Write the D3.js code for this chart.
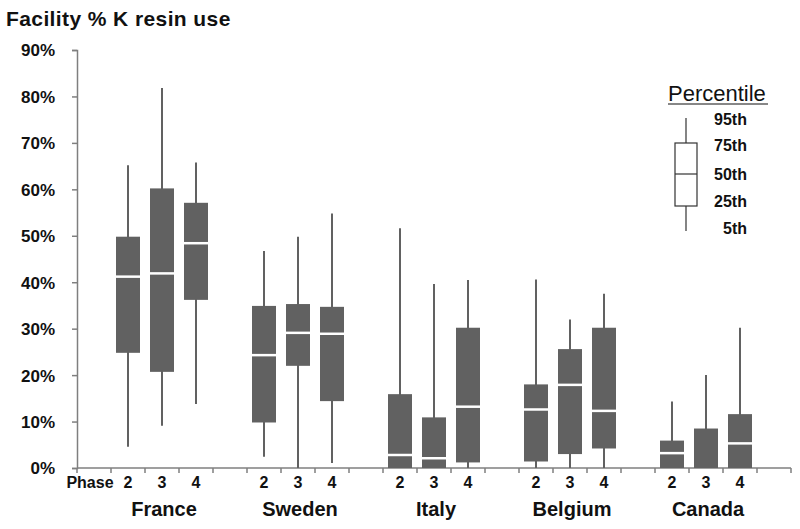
<!DOCTYPE html>
<html lang="en">
<head>
  <meta charset="UTF-8">
  <title>Facility % K resin use</title>
  <script src="https://d3js.org/d3.v7.min.js"></script>
  <style>
    body { margin: 0; background: #fff; }
    text { font-family: "Liberation Sans", Arial, sans-serif; fill: #111; }
    .lbl { font-weight: bold; }
  </style>
</head>
<body>
  <svg width="800" height="529"></svg>

  <script>
    const countries = ["France", "Sweden", "Italy", "Belgium", "Canada"];
    const phases = ["2", "3", "4"];
    // percentiles per box, order: France 2,3,4, Sweden 2,3,4, ...
    const p5  = [4.6, 9.1, 13.8,  2.4, 0, 1.1,  0, 0, 0,  0, 0, 0,  0, 0, 0];
    const p25 = [24.8, 20.7, 36.2,  9.8, 22.0, 14.4,  0, 0, 1.2,  1.4, 3.0, 4.2,  0, 0, 0];
    const p50 = [41.2, 41.9, 48.4,  24.3, 29.1, 28.9,  2.8, 2.1, 13.2,  12.6, 17.9, 12.3,  3.2, 0, 5.3];
    const p75 = [49.8, 60.2, 57.1,  34.9, 35.3, 34.7,  15.9, 10.9, 30.2,  18.0, 25.6, 30.2,  5.9, 8.5, 11.6];
    const p95 = [65.2, 81.8, 65.8,  46.7, 49.8, 54.8,  51.6, 39.6, 40.5,  40.6, 32.0, 37.5,  14.3, 20.0, 30.2];
    const yTicks = [0, 10, 20, 30, 40, 50, 60, 70, 80, 90];
    const legendLabels = ["95th", "75th", "50th", "25th", "5th"];

    const svg = d3.select("svg");
    const axisColor = "#7f7f7f", boxColor = "#616161";

    // slots: "Phase" label slot, then 3 phases + a gap for each country
    const slots = ["Phase"];
    const boxes = [];
    countries.forEach((c, ci) => {
      phases.forEach((p, pi) => {
        const key = c + "-" + p;
        slots.push(key);
        const i = ci * 3 + pi;
        boxes.push({key, phase: p, p5: p5[i], p25: p25[i], p50: p50[i], p75: p75[i], p95: p95[i]});
      });
      slots.push(c + "-gap");
    });

    const x = d3.scaleBand().domain(slots).range([77, 791]);
    const y = d3.scaleLinear().domain([0, 90]).range([468, 50]);
    const boxW = 24;

    // title
    svg.append("text").attr("class", "lbl").attr("x", 6).attr("y", 26)
      .style("font-size", "21px").style("letter-spacing", "0.4px").text("Facility % K resin use");

    // y axis
    const yAxis = svg.append("g").attr("transform", "translate(77,0)")
      .call(d3.axisLeft(y).tickValues(yTicks).tickFormat(d => d + "%").tickSize(5).tickPadding(17));
    yAxis.select(".domain").attr("stroke", axisColor).attr("stroke-width", 1.5);
    yAxis.selectAll(".tick line").attr("stroke", axisColor).attr("stroke-width", 1.5);
    yAxis.selectAll(".tick text").attr("class", "lbl").style("font-size", "17px")
      .attr("fill", "#111").attr("dy", "0.35em");

    // x axis line and ticks at band edges
    const xg = svg.append("g");
    xg.append("line").attr("x1", 77).attr("x2", 791).attr("y1", y(0)).attr("y2", y(0))
      .attr("stroke", axisColor).attr("stroke-width", 1.5);
    xg.selectAll(".xt").data(slots.concat(["end"])).enter().append("line")
      .attr("x1", (d, i) => i < slots.length ? x(d) : x.range()[1])
      .attr("x2", (d, i) => i < slots.length ? x(d) : x.range()[1])
      .attr("y1", y(0)).attr("y2", y(0) + 5)
      .attr("stroke", axisColor).attr("stroke-width", 1.5);

    // phase labels
    svg.append("text").attr("class", "lbl").attr("x", x("Phase") + x.bandwidth() / 2 - 4).attr("y", 488)
      .attr("text-anchor", "middle").style("font-size", "16px").text("Phase");
    svg.selectAll(".ph").data(boxes).enter().append("text").attr("class", "lbl")
      .attr("x", d => x(d.key) + x.bandwidth() / 2).attr("y", 488)
      .attr("text-anchor", "middle").style("font-size", "16px").text(d => d.phase);

    // country labels
    svg.selectAll(".ct").data(countries).enter().append("text").attr("class", "lbl")
      .attr("x", d => x(d + "-3") + x.bandwidth() / 2 + 2).attr("y", 516)
      .attr("text-anchor", "middle").style("font-size", "20px").text(d => d);

    // boxes
    const g = svg.selectAll(".box").data(boxes).enter().append("g");
    const cx = d => x(d.key) + x.bandwidth() / 2;
    g.append("line").attr("x1", cx).attr("x2", cx)
      .attr("y1", d => y(d.p95)).attr("y2", d => y(d.p5))
      .attr("stroke", boxColor).attr("stroke-width", 2);
    g.append("rect").attr("x", d => cx(d) - boxW / 2).attr("width", boxW)
      .attr("y", d => y(d.p75)).attr("height", d => y(d.p25) - y(d.p75))
      .attr("fill", boxColor);
    g.filter(d => d.p50 > 0).append("line")
      .attr("x1", d => cx(d) - boxW / 2).attr("x2", d => cx(d) + boxW / 2)
      .attr("y1", d => y(d.p50)).attr("y2", d => y(d.p50))
      .attr("stroke", "#fff").attr("stroke-width", 2.5);

    // legend
    const lg = svg.append("g");
    lg.append("text").attr("x", 668).attr("y", 101).style("font-size", "22px").text("Percentile");
    lg.append("line").attr("x1", 668).attr("x2", 768).attr("y1", 104).attr("y2", 104)
      .attr("stroke", "#111").attr("stroke-width", 1.2);
    const ly = [118, 143, 174, 206, 231];
    lg.append("line").attr("x1", 686).attr("x2", 686).attr("y1", ly[0]).attr("y2", ly[4])
      .attr("stroke", "#333").attr("stroke-width", 1.2);
    lg.append("rect").attr("x", 675).attr("y", ly[1]).attr("width", 22).attr("height", ly[3] - ly[1])
      .attr("fill", "#fff").attr("stroke", "#333").attr("stroke-width", 1.2);
    lg.append("line").attr("x1", 675).attr("x2", 697).attr("y1", ly[2]).attr("y2", ly[2])
      .attr("stroke", "#333").attr("stroke-width", 1.2);
    const labY = [119, 145, 174, 201, 228];
    lg.selectAll(".ll").data(legendLabels).enter().append("text").attr("class", "lbl")
      .attr("x", (d, i) => i === 4 ? 723 : 714).attr("y", (d, i) => labY[i]).attr("dy", "0.35em")
      .style("font-size", "16px").text(d => d);
  </script>
</body>
</html>
